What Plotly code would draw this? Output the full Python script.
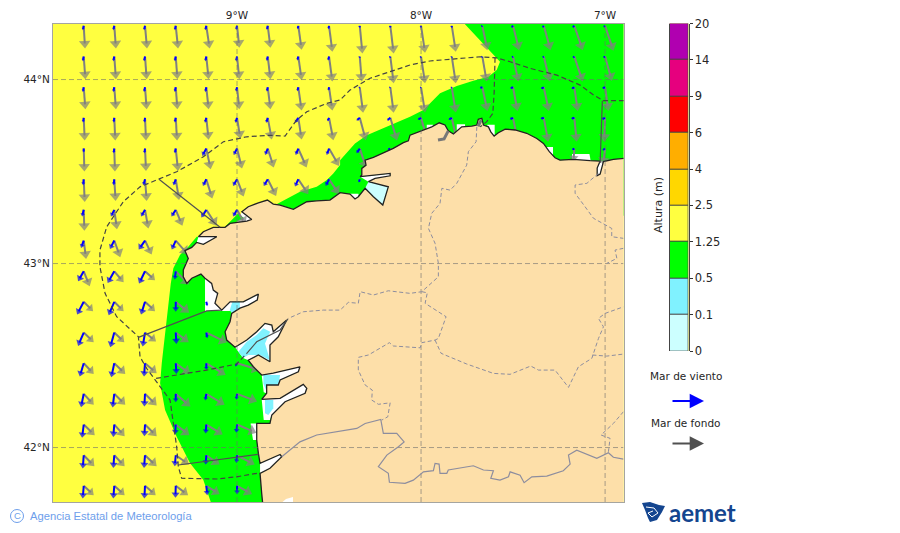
import math
import plotly.graph_objects as go

W, H = 900, 533

# ---------------------------
# Map extent and ticks
# ---------------------------
LON_RANGE = [-10.0, -6.9]
LAT_RANGE = [41.704, 44.302]
LON_TICKS = [-9, -8, -7]
LON_LABELS = ["9°W", "8°W", "7°W"]
LAT_TICKS = [44, 43, 42]
LAT_LABELS = ["44°N", "43°N", "42°N"]

# ---------------------------
# Colour scale of wave height
# ---------------------------
LEVELS = ["0", "0.1", "0.5", "1.25", "2.5", "4", "6", "9", "14", "20"]
COLORS = ["#ccffff", "#80f2ff", "#00ff00", "#ffff40", "#ffd700",
          "#ffae00", "#ff0000", "#e6007e", "#b000b0"]
C_PALE, C_BLUE, C_GREEN, C_YELLOW = COLORS[:4]
C_LAND = "#fddfa9"

# ---------------------------
# Wave grid, one arrow per node
# ---------------------------
GRID_LON = [-9.833, -9.667, -9.5, -9.333, -9.167, -9.0, -8.833, -8.667, -8.5,
            -8.333, -8.167, -8.0, -7.833, -7.667, -7.5, -7.333, -7.167, -7.0]
GRID_LAT = [44.292, 44.125, 43.958, 43.792, 43.625, 43.458, 43.292, 43.125,
            42.958, 42.792, 42.625, 42.458, 42.292, 42.125, 41.958, 41.792]
N = None

swell_u = [
    [4, 5, 6, 7, 10, 7, 8, 10, 10, 8, 10, 12, 12, 15, 18, 20, 25, 25],
    [5, 5, 5, 5, 7, 7, 8, 10, 10, 6, 10, 12, 12, 13, 16, 18, 25, 20],
    [5, 5, 5, 5, 7, 7, 8, 10, 10, 10, 10, 12, 12, 15, 13, 15, 10, 10],
    [3, 3, 3, 4, 7, 10, 12, 10, 13, 18, 20, 19, 14, N, 13, 13, 7, -3],
    [2, 2, 3, 7, 13, 15, 18, 25, 30, 20, 25, N, N, N, N, N, -3, -6],
    [3, 4, 5, 10, 18, 20, 25, 30, 30, N, N, N, N, N, N, N, N, N],
    [2, 8, 10, 20, 31, 25, N, N, N, N, N, N, N, N, N, N, N, N],
    [7, 18, 20, 37, N, N, N, N, N, N, N, N, N, N, N, N, N, N],
    [18, 28, 30, 40, N, N, N, N, N, N, N, N, N, N, N, N, N, N],
    [28, 28, 30, 40, N, N, N, N, N, N, N, N, N, N, N, N, N, N],
    [30, 30, 33, 39, 62, N, N, N, N, N, N, N, N, N, N, N, N, N],
    [30, 33, 35, 44, 58, 68, N, N, N, N, N, N, N, N, N, N, N, N],
    [30, 33, 35, 44, 55, 60, N, N, N, N, N, N, N, N, N, N, N, N],
    [33, 31, 35, 41, 49, 58, N, N, N, N, N, N, N, N, N, N, N, N],
    [32, 31, 35, 40, 40, 53, N, N, N, N, N, N, N, N, N, N, N, N],
    [30, 31, 32, 37, 40, 45, N, N, N, N, N, N, N, N, N, N, N, N],
]
swell_v = [
    [-68, -68, -68, -68, -68, -66, -66, -72, -78, -83, -83, -81, -78, -73, -73, -73, -73, -75],
    [-68, -68, -68, -68, -68, -68, -68, -70, -75, -75, -80, -80, -80, -75, -75, -75, -75, -73],
    [-66, -66, -66, -66, -66, -66, -66, -70, -70, -76, -76, -76, -76, -71, -71, -71, -71, -71],
    [-68, -68, -68, -68, -66, -63, -65, -65, -67, -67, -68, -67, -65, N, -65, -72, -72, -72],
    [-69, -69, -67, -67, -62, -60, -57, -57, -52, -60, -60, N, N, N, N, N, -40, -50],
    [-68, -65, -65, -62, -58, -52, -50, -45, -45, N, N, N, N, N, N, N, N, N],
    [-63, -58, -56, -48, -48, -45, N, N, N, N, N, N, N, N, N, N, N, N],
    [-55, -50, -42, -42, N, N, N, N, N, N, N, N, N, N, N, N, N, N],
    [-45, -33, -27, -40, N, N, N, N, N, N, N, N, N, N, N, N, N, N],
    [-28, -28, -28, -33, N, N, N, N, N, N, N, N, N, N, N, N, N, N],
    [-29, -29, -27, -29, -30, N, N, N, N, N, N, N, N, N, N, N, N, N],
    [-32, -32, -30, -32, -35, -20, N, N, N, N, N, N, N, N, N, N, N, N],
    [-33, -33, -35, -38, -33, -23, N, N, N, N, N, N, N, N, N, N, N, N],
    [-32, -35, -35, -32, -30, -25, N, N, N, N, N, N, N, N, N, N, N, N],
    [-33, -33, -33, -28, -28, -28, N, N, N, N, N, N, N, N, N, N, N, N],
    [-28, -28, -28, -28, -25, -25, N, N, N, N, N, N, N, N, N, N, N, N],
]
wind_u = [
    [-3, -3, -3, -3, -3, -3, -3, -2, -2, -1, -1, -1, -1, -4, -6, -5, -6, -5],
    [-3, -3, -3, -3, -3, -3, -3, -3, -3, -2, -2, -3, -2, -3, -4, -4, -5, -6],
    [-3, -3, -3, -3, -3, -3, -3, -3, -2, -3, -3, -3, -3, -8, -9, -9, -9, -9],
    [-2, -2, -2, -3, -4, -5, -5, -10, -5, -10, -10, -10, -10, N, -10, -10, -10, -10],
    [0, -2, -2, -3, -12, -10, -8, -8, -7, -10, -8, N, N, N, N, N, -7, -8],
    [-2, -2, -5, -7, -10, -12, -12, -10, -10, -3, N, N, N, N, N, N, N, N],
    [-5, -10, -12, -13, -15, -12, N, N, N, N, N, N, N, N, N, N, N, N],
    [-8, -13, -19, -12, N, N, N, N, N, N, N, N, N, N, N, N, N, N],
    [-17, -20, -18, -3, N, N, N, N, N, N, N, N, N, N, N, N, N, N],
    [-20, -17, -12, 0, 3, N, N, N, N, N, N, N, N, N, N, N, N, N],
    [-17, -12, -7, 2, 3, N, N, N, N, N, N, N, N, N, N, N, N, N],
    [-12, -9, -3, 2, 0, -5, N, N, N, N, N, N, N, N, N, N, N, N],
    [-8, -5, -2, 0, -3, -2, N, N, N, N, N, N, N, N, N, N, N, N],
    [-5, -3, -2, -2, -2, -2, N, N, N, N, N, N, N, N, N, N, N, N],
    [-3, -3, -3, -3, -2, -2, N, N, N, N, N, N, N, N, N, N, N, N],
    [-3, -3, -2, -1, 3, 0, N, N, N, N, N, N, N, N, N, N, N, N],
]
wind_v = [
    [-13, -13, -13, -13, -13, -12, -12, -10, -10, -6, -6, -6, -6, -3, -5, -5, -5, -4],
    [-14, -14, -14, -14, -14, -14, -13, -12, -12, -4, -4, -4, -3, -3, -3, -3, -4, -3],
    [-14, -14, -14, -14, -14, -13, -13, -12, -10, -2, -2, -2, -2, -2, -3, -4, -4, -3],
    [-14, -14, -14, -14, -15, -15, -15, -15, -10, -8, -8, -6, -6, N, -4, -3, -3, -4],
    [-12, -14, -14, -14, -22, -19, -19, -19, -19, -14, -4, N, N, N, N, N, -4, -5],
    [-18, -18, -18, -18, -20, -20, -20, -22, -20, -10, N, N, N, N, N, N, N, N],
    [-20, -20, -20, -20, -23, -20, N, N, N, N, N, N, N, N, N, N, N, N],
    [-22, -25, -27, -27, N, N, N, N, N, N, N, N, N, N, N, N, N, N],
    [-30, -35, -37, -25, N, N, N, N, N, N, N, N, N, N, N, N, N, N],
    [-38, -40, -38, -30, -13, N, N, N, N, N, N, N, N, N, N, N, N, N],
    [-40, -44, -42, -34, -17, N, N, N, N, N, N, N, N, N, N, N, N, N],
    [-40, -42, -40, -32, -20, -10, N, N, N, N, N, N, N, N, N, N, N, N],
    [-40, -41, -38, -25, -20, -18, N, N, N, N, N, N, N, N, N, N, N, N],
    [-40, -37, -35, -30, -27, -25, N, N, N, N, N, N, N, N, N, N, N, N],
    [-40, -38, -38, -33, -28, -23, N, N, N, N, N, N, N, N, N, N, N, N],
    [-38, -38, -38, -36, -28, -25, N, N, N, N, N, N, N, N, N, N, N, N],
]

# ---------------------------
# Sea areas (lon, lat)
# ---------------------------
green_north = [
    (-7.770, 44.31), (-7.571, 44.097), (-7.589, 44.052), (-7.634, 44.015), (-7.716, 43.993),
    (-7.806, 43.965), (-7.897, 43.925), (-7.987, 43.834), (-8.060, 43.798), (-8.168, 43.753),
    (-8.295, 43.698), (-8.359, 43.653), (-8.440, 43.562), (-8.440, 43.535), (-8.477, 43.490),
    (-8.512, 43.454), (-8.567, 43.417), (-8.658, 43.390), (-8.730, 43.354), (-8.793, 43.318),
    (-8.793, 43.26), (-6.85, 43.26), (-6.85, 44.31),
]
green_west = [
    (-9.219, 43.146), (-9.265, 43.091), (-9.310, 43.046), (-9.346, 42.974), (-9.360, 42.892),
    (-9.377, 42.747), (-9.391, 42.602), (-9.409, 42.458), (-9.418, 42.349), (-9.391, 42.204),
    (-9.328, 42.059), (-9.255, 41.914), (-9.183, 41.823), (-9.138, 41.69), (-8.7, 41.69),
    (-8.7, 42.7), (-9.0, 43.146),
]
green_cape = [
    (-9.065, 43.200), (-9.029, 43.236), (-8.993, 43.273), (-8.962, 43.246),
    (-9.002, 43.227), (-9.038, 43.200),
]
white_areas = [
    [(-9.174, 42.937), (-9.011, 42.937), (-9.011, 42.742), (-9.174, 42.742)],
    [(-9.038, 42.792), (-8.966, 42.792), (-8.911, 42.820), (-8.884, 42.834), (-8.890, 42.802),
     (-8.939, 42.774), (-9.029, 42.729)],
    [(-9.011, 42.545), (-8.947, 42.584), (-8.893, 42.629), (-8.848, 42.675), (-8.811, 42.666),
     (-8.803, 42.629), (-8.730, 42.693), (-8.776, 42.602), (-8.821, 42.557), (-8.821, 42.466),
     (-8.884, 42.503), (-8.939, 42.475), (-8.967, 42.486)],
    [(-8.866, 42.394), (-8.803, 42.405), (-8.658, 42.439), (-8.667, 42.412), (-8.766, 42.367),
     (-8.776, 42.340), (-8.839, 42.340), (-8.839, 42.295), (-8.855, 42.30)],
    [(-8.866, 42.262), (-8.766, 42.267), (-8.640, 42.343), (-8.621, 42.322), (-8.630, 42.295),
     (-8.739, 42.249), (-8.811, 42.177), (-8.821, 42.15), (-8.855, 42.15)],
    [(-8.926, 42.131), (-8.88, 42.131), (-8.88, 42.041), (-8.913, 42.041), (-8.92, 42.085)],
    [(-8.875, 41.914), (-8.766, 41.962), (-8.75, 41.950), (-8.821, 41.887), (-8.875, 41.860)],
    [(-7.969, 43.755), (-7.935, 43.755), (-7.935, 43.71), (-7.969, 43.71)],
    [(-7.806, 43.757), (-7.761, 43.757), (-7.761, 43.72), (-7.806, 43.72)],
    [(-7.64, 43.755), (-7.60, 43.755), (-7.60, 43.69), (-7.64, 43.69)],
    [(-7.317, 43.633), (-7.283, 43.633), (-7.283, 43.58), (-7.32, 43.58)],
    [(-7.18, 43.595), (-7.085, 43.595), (-7.075, 43.54), (-7.18, 43.54)],
    [(-8.386, 43.38), (-8.34, 43.38), (-8.34, 43.33), (-8.386, 43.33)],
    [(-9.21, 43.146), (-9.11, 43.146), (-9.156, 43.118), (-9.183, 43.104), (-9.219, 43.115)],
    [(-8.974, 43.282), (-8.92, 43.24), (-8.947, 43.231), (-9.0, 43.22)],
    [(-7.009, 43.554), (-7.027, 43.486), (-7.043, 43.478), (-7.043, 43.519), (-7.027, 43.557)],
    [(-8.331, 43.472), (-8.168, 43.490), (-8.168, 43.477), (-8.286, 43.445)],
]
pale_areas = [
    [(-8.286, 43.445), (-8.178, 43.417), (-8.208, 43.318), (-8.259, 43.363), (-8.304, 43.409)],
]
blue_areas = [
    [(-9.025, 42.792), (-8.985, 42.792), (-8.985, 42.757), (-9.02, 42.725), (-9.04, 42.745)],
    [(-8.993, 42.521), (-8.947, 42.575), (-8.893, 42.612), (-8.857, 42.648), (-8.82, 42.63),
     (-8.848, 42.566), (-8.821, 42.475), (-8.875, 42.503), (-8.939, 42.503), (-8.967, 42.486)],
    [(-8.857, 42.394), (-8.766, 42.394), (-8.776, 42.340), (-8.830, 42.340), (-8.839, 42.304),
     (-8.857, 42.348)],
    [(-8.848, 42.258), (-8.803, 42.258), (-8.803, 42.213), (-8.830, 42.177), (-8.848, 42.186)],
]

# ---------------------------
# Land outline, east to west then south
# ---------------------------
land = [
    (-6.85, 43.572), (-6.897, 43.572), (-6.955, 43.566), (-6.996, 43.559), (-7.009, 43.554),
    (-7.027, 43.486), (-7.043, 43.478), (-7.043, 43.519), (-7.027, 43.557), (-7.081, 43.559),
    (-7.172, 43.566), (-7.245, 43.562), (-7.272, 43.575), (-7.303, 43.608), (-7.335, 43.653),
    (-7.371, 43.680), (-7.426, 43.708), (-7.489, 43.726), (-7.543, 43.731), (-7.580, 43.711),
    (-7.603, 43.693), (-7.621, 43.716), (-7.634, 43.743), (-7.661, 43.753), (-7.670, 43.789),
    (-7.689, 43.784), (-7.697, 43.753), (-7.724, 43.747), (-7.779, 43.743), (-7.824, 43.704),
    (-7.852, 43.722), (-7.870, 43.753), (-7.901, 43.765), (-7.942, 43.743), (-7.987, 43.726),
    (-8.033, 43.711), (-8.060, 43.698), (-8.069, 43.667), (-8.096, 43.657), (-8.151, 43.626),
    (-8.205, 43.602), (-8.259, 43.577), (-8.304, 43.562), (-8.299, 43.535), (-8.322, 43.517),
    (-8.322, 43.481), (-8.331, 43.472), (-8.259, 43.481), (-8.168, 43.490), (-8.168, 43.477),
    (-8.250, 43.463), (-8.286, 43.445), (-8.178, 43.417), (-8.208, 43.318), (-8.259, 43.363),
    (-8.304, 43.409), (-8.341, 43.363), (-8.359, 43.351), (-8.386, 43.378), (-8.440, 43.385),
    (-8.495, 43.345), (-8.567, 43.341), (-8.621, 43.336), (-8.694, 43.295), (-8.766, 43.318),
    (-8.803, 43.323), (-8.835, 43.345), (-8.884, 43.330), (-8.939, 43.309), (-8.974, 43.282),
    (-8.920, 43.240), (-8.947, 43.231), (-9.038, 43.218), (-9.065, 43.197), (-9.129, 43.197),
    (-9.183, 43.173), (-9.210, 43.146), (-9.110, 43.146), (-9.156, 43.118), (-9.183, 43.104),
    (-9.219, 43.115), (-9.246, 43.088), (-9.283, 43.070), (-9.265, 43.028), (-9.292, 42.965),
    (-9.292, 42.928), (-9.273, 42.892), (-9.246, 42.920), (-9.196, 42.943), (-9.174, 42.920),
    (-9.138, 42.892), (-9.129, 42.856), (-9.105, 42.838), (-9.120, 42.784), (-9.083, 42.747),
    (-9.038, 42.792), (-8.966, 42.792), (-8.911, 42.820), (-8.884, 42.834), (-8.890, 42.802),
    (-8.939, 42.774), (-8.984, 42.758), (-9.029, 42.729), (-9.038, 42.684), (-9.065, 42.629),
    (-9.056, 42.584), (-9.011, 42.545), (-8.947, 42.584), (-8.893, 42.629), (-8.848, 42.675),
    (-8.811, 42.666), (-8.803, 42.629), (-8.730, 42.693), (-8.776, 42.602), (-8.821, 42.557),
    (-8.821, 42.466), (-8.884, 42.503), (-8.939, 42.475), (-8.911, 42.439), (-8.866, 42.394),
    (-8.803, 42.405), (-8.658, 42.439), (-8.667, 42.412), (-8.766, 42.367), (-8.776, 42.340),
    (-8.839, 42.340), (-8.839, 42.295), (-8.866, 42.262), (-8.766, 42.267), (-8.640, 42.343),
    (-8.621, 42.322), (-8.630, 42.295), (-8.739, 42.249), (-8.811, 42.177), (-8.821, 42.131),
    (-8.893, 42.131), (-8.893, 42.041), (-8.884, 41.968), (-8.875, 41.914), (-8.766, 41.962),
    (-8.757, 41.950), (-8.821, 41.887), (-8.875, 41.860), (-8.866, 41.751), (-8.860, 41.69),
    (-6.85, 41.69),
]
south_patch = [(-8.734, 41.720), (-8.696, 41.731), (-8.696, 41.69), (-8.77, 41.69)]
estuaries = [
    [(-7.853, 43.720), (-7.875, 43.677), (-7.908, 43.671)],
    [(-7.674, 43.780), (-7.69, 43.745)],
]

# ---------------------------
# Forecast zones and borders
# ---------------------------
zones_dashed = [
    [(-6.897, 43.885), (-7.009, 43.885), (-7.063, 43.916), (-7.136, 43.970), (-7.262, 44.024),
     (-7.408, 44.061), (-7.516, 44.097), (-7.589, 44.118), (-7.679, 44.124), (-7.951, 44.101),
     (-8.060, 44.079), (-8.168, 44.042), (-8.277, 44.007), (-8.386, 43.943), (-8.440, 43.889),
     (-8.512, 43.871), (-8.621, 43.825), (-8.676, 43.780), (-8.739, 43.693), (-8.821, 43.697),
     (-8.947, 43.689), (-9.074, 43.662), (-9.183, 43.580), (-9.328, 43.499), (-9.428, 43.458),
     (-9.527, 43.417), (-9.618, 43.336), (-9.708, 43.200), (-9.745, 43.073), (-9.745, 42.983),
     (-9.717, 42.838), (-9.654, 42.711), (-9.536, 42.602), (-9.527, 42.493), (-9.491, 42.430),
     (-9.446, 42.367), (-9.364, 42.258), (-9.346, 42.131), (-9.328, 42.004), (-9.319, 41.896),
     (-9.301, 41.833), (-9.110, 41.829), (-9.002, 41.841), (-8.875, 41.863)],
    [(-9.440, 42.376), (-9.165, 42.421), (-9.002, 42.454), (-8.947, 42.512)],
    [(-7.598, 44.118), (-7.603, 43.927), (-7.610, 43.816), (-7.643, 43.771), (-7.679, 43.743)],
]
zones_solid = [
    [(-9.424, 43.458), (-9.092, 43.197)],
    [(-9.536, 42.599), (-9.165, 42.743), (-9.083, 42.747)],
    [(-9.319, 41.905), (-8.884, 41.963)],
    [(-7.015, 43.885), (-7.027, 43.546)],
    [(-8.947, 42.512), (-8.893, 42.575), (-8.766, 42.639), (-8.723, 42.70)],
]
provinces = [
    [(-7.697, 43.743), (-7.701, 43.662), (-7.743, 43.608), (-7.752, 43.535), (-7.806, 43.436),
     (-7.842, 43.399), (-7.887, 43.409), (-7.897, 43.327), (-7.942, 43.273), (-7.960, 43.191),
     (-7.924, 43.110), (-7.906, 43.001), (-7.906, 42.928), (-7.996, 42.847), (-8.060, 42.838),
     (-8.178, 42.852), (-8.259, 42.829), (-8.331, 42.847), (-8.341, 42.784), (-8.395, 42.789),
     (-8.440, 42.747), (-8.531, 42.747), (-8.640, 42.738), (-8.721, 42.702)],
    [(-7.996, 42.847), (-7.966, 42.841), (-7.978, 42.784), (-7.864, 42.711), (-7.906, 42.593),
     (-7.924, 42.584), (-7.996, 42.570), (-8.005, 42.542), (-8.151, 42.552), (-8.172, 42.570),
     (-8.286, 42.503), (-8.341, 42.490), (-8.341, 42.421), (-8.304, 42.340), (-8.265, 42.312),
     (-8.268, 42.258), (-8.232, 42.235), (-8.168, 42.243), (-8.181, 42.167), (-8.214, 42.149)],
    [(-7.924, 42.584), (-7.891, 42.512), (-7.752, 42.454), (-7.607, 42.403), (-7.516, 42.398),
     (-7.404, 42.443), (-7.362, 42.421), (-7.272, 42.421), (-7.199, 42.327), (-7.145, 42.439),
     (-7.072, 42.485), (-7.036, 42.593), (-7.009, 42.656), (-7.036, 42.702), (-7.000, 42.729),
     (-6.900, 42.765)],
    [(-7.069, 42.503), (-6.991, 42.497), (-6.900, 42.508)],
    [(-6.900, 42.195), (-6.955, 42.131), (-7.022, 42.068), (-6.973, 42.050), (-6.982, 41.977)],
    [(-7.036, 43.490), (-7.099, 43.436), (-7.163, 43.427), (-7.163, 43.382), (-7.109, 43.309),
     (-7.063, 43.246), (-6.964, 43.191), (-6.964, 43.146), (-6.900, 43.137)],
    [(-6.900, 43.083), (-6.946, 43.073), (-6.936, 43.028), (-6.991, 43.001)],
]
border = [
    (-8.757, 41.950), (-8.658, 42.031), (-8.567, 42.068), (-8.440, 42.091), (-8.349, 42.104),
    (-8.304, 42.131), (-8.219, 42.153), (-8.205, 42.077), (-8.132, 42.077), (-8.092, 42.031),
    (-8.123, 42.004), (-8.186, 41.959), (-8.232, 41.896), (-8.178, 41.860), (-8.172, 41.811),
    (-8.087, 41.805), (-8.042, 41.823), (-7.987, 41.868), (-7.933, 41.874), (-7.924, 41.914),
    (-7.902, 41.910), (-7.897, 41.860), (-7.860, 41.860), (-7.852, 41.878), (-7.716, 41.901),
    (-7.661, 41.878), (-7.607, 41.874), (-7.621, 41.833), (-7.571, 41.823), (-7.525, 41.841),
    (-7.516, 41.868), (-7.462, 41.850), (-7.440, 41.809), (-7.398, 41.841), (-7.317, 41.845),
    (-7.227, 41.874), (-7.190, 41.910), (-7.199, 41.959), (-7.154, 41.986), (-7.045, 41.941),
    (-6.982, 41.972), (-6.955, 41.947), (-6.900, 41.937),
]

# ---------------------------
# Helpers
# ---------------------------
DEG_PER_PX = 1 / 184


def split(paths):
    xs, ys = [], []
    for path in paths:
        xs += [p[0] for p in path] + [None]
        ys += [p[1] for p in path] + [None]
    return xs, ys


def area(fig, paths, color, line=None):
    for path in paths:
        fig.add_trace(go.Scatter(
            x=[p[0] for p in path], y=[p[1] for p in path],
            mode="lines", fill="toself", fillcolor=color,
            line=line or dict(width=0, color=color),
            hoverinfo="skip", showlegend=False,
        ))


def lines(fig, paths, color, width, dash="solid"):
    xs, ys = split(paths)
    fig.add_trace(go.Scatter(
        x=xs, y=ys, mode="lines", line=dict(color=color, width=width, dash=dash),
        hoverinfo="skip", showlegend=False,
    ))


def arrows(fig, u_rows, v_rows, color, width, head):
    xs, ys, hx, hy, ang, size = [], [], [], [], [], []
    for r, lat in enumerate(GRID_LAT):
        for c, lon in enumerate(GRID_LON):
            u, v = u_rows[r][c], v_rows[r][c]
            if u is None:
                continue
            # one quiver unit is a third of a pixel
            dx, dy = u / 3, v / 3
            length = math.hypot(dx, dy)
            s = min(head, length * 0.6)
            ex = dx * (1 - 0.5 * s / length)
            ey = dy * (1 - 0.5 * s / length)
            end_x = lon + ex * DEG_PER_PX
            end_y = lat + ey * DEG_PER_PX
            xs += [lon, end_x, None]
            ys += [lat, end_y, None]
            hx.append(end_x)
            hy.append(end_y)
            ang.append(math.degrees(math.atan2(dx, dy)))
            size.append(s)
    fig.add_trace(go.Scatter(
        x=xs, y=ys, mode="lines", line=dict(color=color, width=width),
        hoverinfo="skip", showlegend=False,
    ))
    fig.add_trace(go.Scatter(
        x=hx, y=hy, mode="markers",
        marker=dict(symbol="triangle-up", color=color, size=size, angle=ang, line=dict(width=0)),
        hoverinfo="skip", showlegend=False,
    ))


def px_x(x):
    return x / W


def px_y(y):
    return 1 - y / H


def label(text, x, y, size, color="#262626", family="DejaVu Sans", xanchor="center", **kw):
    fig.add_annotation(
        text=text, x=px_x(x), y=px_y(y), xref="paper", yref="paper", showarrow=False,
        xanchor=xanchor, yanchor="middle", font=dict(family=family, size=size, color=color), **kw,
    )


def legend_arrow(y, color):
    fig.add_annotation(
        x=px_x(704), y=px_y(y), xref="paper", yref="paper", ax=-33, ay=0,
        text="", showarrow=True, arrowhead=2, arrowsize=1.3,
        arrowwidth=2.2, arrowcolor=color,
    )


def logo_path(points):
    pts = ["%s%.5f,%.5f" % ("M" if i == 0 else "L", px_x(x), px_y(y)) for i, (x, y) in enumerate(points)]
    return " ".join(pts)


# ---------------------------
# Build the figure
# ---------------------------
fig = go.Figure()

area(fig, [green_north, green_west], C_GREEN)
area(fig, white_areas, "white")
area(fig, pale_areas, C_PALE)
area(fig, blue_areas, C_BLUE)
area(fig, [green_cape], C_GREEN)

arrows(fig, swell_u, swell_v, "#808080", 2, 10)
arrows(fig, wind_u, wind_v, "#0000ff", 2, 7)

area(fig, [land], C_LAND, line=dict(color="#222222", width=1.3))
area(fig, [south_patch], "white")
lines(fig, estuaries, "#777777", 3)

grid_x = [[(t, LAT_RANGE[0]), (t, LAT_RANGE[1])] for t in LON_TICKS]
grid_y = [[(LON_RANGE[0], t), (LON_RANGE[1], t)] for t in LAT_TICKS]
lines(fig, grid_x + grid_y, "rgba(110,110,110,0.6)", 1, "5px,3px")

lines(fig, provinces, "#8d8d9e", 1, "4px,2.5px")
lines(fig, [border], "#8d8d9e", 1.2)
lines(fig, zones_dashed, "#444444", 1.2, "5px,3px")
lines(fig, zones_solid, "#505050", 1.2)

# colour scale as a stack of equal cells
fig.add_trace(go.Bar(
    x=[0] * len(COLORS), y=[1] * len(COLORS), base=list(range(len(COLORS))), width=1,
    marker=dict(color=COLORS, line=dict(color="#444444", width=0.8)),
    xaxis="x2", yaxis="y2", hoverinfo="skip", showlegend=False,
))

fig.update_layout(
    width=W, height=H, margin=dict(l=0, r=0, t=0, b=0, pad=0, autoexpand=False),
    paper_bgcolor="white", plot_bgcolor=C_YELLOW, bargap=0,
    xaxis=dict(
        domain=[px_x(53), px_x(623.5)], range=LON_RANGE, side="top", automargin=False,
        tickvals=LON_TICKS, ticktext=LON_LABELS, ticks="", showgrid=False, zeroline=False,
        showline=True, mirror=True, linecolor="#a5a5a0", linewidth=1,
        tickfont=dict(family="DejaVu Sans", size=10.5, color="#262626"),
    ),
    yaxis=dict(
        domain=[px_y(502), px_y(24)], range=LAT_RANGE, automargin=False,
        tickvals=LAT_TICKS, ticktext=LAT_LABELS, ticks="", showgrid=False, zeroline=False,
        showline=True, mirror=True, linecolor="#a5a5a0", linewidth=1,
        tickfont=dict(family="DejaVu Sans", size=10.5, color="#262626"),
    ),
    xaxis2=dict(
        domain=[px_x(669.5), px_x(688.5)], range=[-0.5, 0.5], anchor="y2",
        visible=False, fixedrange=True,
    ),
    yaxis2=dict(
        domain=[px_y(351), px_y(23.5)], range=[0, len(COLORS)], anchor="x2", side="right",
        automargin=False,
        tickvals=list(range(len(LEVELS))), ticktext=LEVELS, ticks="outside", ticklen=3,
        tickcolor="#333333", showgrid=False, zeroline=False, showline=True, mirror=True,
        linecolor="#444444", linewidth=1,
        tickfont=dict(family="DejaVu Sans", size=11.5, color="#262626"),
    ),
    shapes=[
        dict(type="path", xref="paper", yref="paper", fillcolor="#14458f",
             line=dict(width=0),
             path=logo_path([(642, 503), (650, 502), (659, 505), (665, 506), (662, 512),
                             (657, 520), (650, 522), (648, 518), (645, 510)]) + " Z"),
        dict(type="path", xref="paper", yref="paper", line=dict(color="white", width=1),
             path=logo_path([(646, 507), (654, 508), (658, 513), (652, 517), (648, 513), (653, 511)])),
        dict(type="circle", xref="paper", yref="paper", line=dict(color="#6d9eeb", width=1),
             x0=px_x(10.5), x1=px_x(23.5), y0=px_y(522.5), y1=px_y(509.5)),
    ],
)

label("Altura (m)", 659, 205, 11, textangle=-90)
label("Mar de viento", 686, 375.5, 10.5)
label("Mar de fondo", 685, 423, 10.5)
legend_arrow(401, "#0000ff")
legend_arrow(443.5, "#505050")
label("aemet", 667, 512, 24, color="#14458f", family="Lato", xanchor="left")
fig.layout.annotations[-1].font.weight = "bold"
label("C", 17, 515.5, 9.5, color="#6d9eeb", family="Liberation Sans")
label("Agencia Estatal de Meteorología", 28, 516, 11.2, color="#6d9eeb",
      family="Liberation Sans", xanchor="left")

fig.write_html("out.html", config={"displayModeBar": False},
               post_script="document.body.style.margin='0';")
